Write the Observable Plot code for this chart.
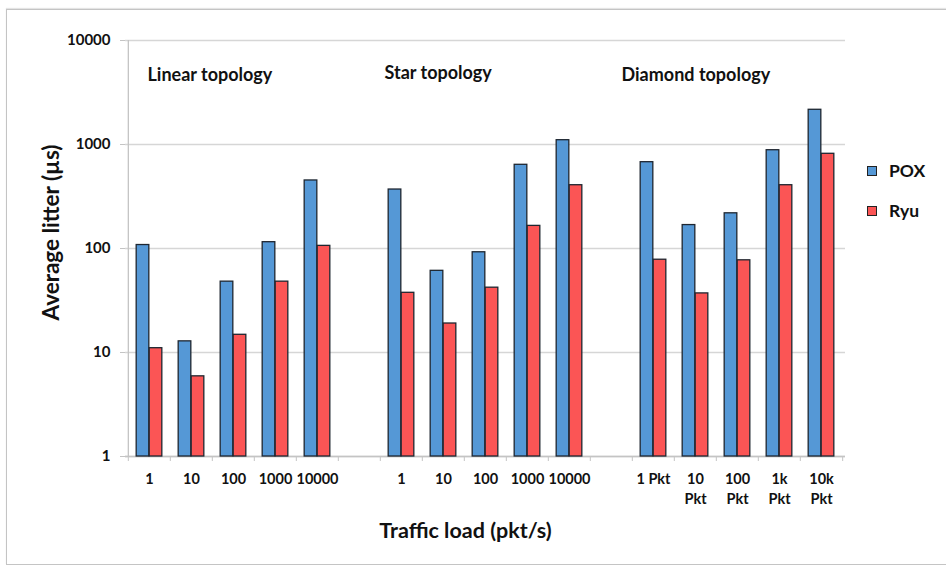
<!DOCTYPE html>
<html>
<head>
<meta charset="utf-8">
<script src="https://cdn.jsdelivr.net/npm/d3@7"></script>
<script src="https://cdn.jsdelivr.net/npm/@observablehq/plot@0.6"></script>
<style>
  html, body { margin: 0; padding: 0; background: #fff; }
  #wrap { position: relative; width: 946px; height: 569px; overflow: hidden; font-family: Lato, "Open Sans", sans-serif; }
  #border { position: absolute; left: 6px; top: 9px; width: 950px; height: 556px; border: 1px solid #c4c4c4; box-sizing: border-box; box-shadow: 0 -1px 1px #e4e4e4; }
  #chart { position: absolute; left: 0; top: 0; }
  .leg { position: absolute; left: 867px; display: flex; align-items: center; font-weight: 700; font-size: 17.5px; color: #111; }
  .sw { width: 8px; height: 8px; border: 1px solid #222; margin-right: 12px; }
</style>
</head>
<body>
<div id="wrap">
  <div id="border"></div>
  <div id="chart"></div>
  <div class="leg" style="top:160px"><span class="sw" style="background:#5598d6"></span>POX</div>
  <div class="leg" style="top:200px"><span class="sw" style="background:#fb5555"></span>Ryu</div>
</div>
<script>
// ---- data ----
const seriesNames = ["POX", "Ryu"];
const loadLabels = ["1", "10", "100", "1000", "10000"];
const diamondLabels = ["1 Pkt", "10\nPkt", "100\nPkt", "1k\nPkt", "10k\nPkt"];
const groupTitles = ["Linear topology", "Star topology", "Diamond topology"];
const poxLinear = [108, 12.8, 48, 115, 451];
const ryuLinear = [11, 5.9, 14.8, 48, 106];
const poxStar = [369, 61, 92, 638, 1100];
const ryuStar = [37.5, 19, 42, 165, 406];
const poxDiamond = [676, 168, 218, 881, 2157];
const ryuDiamond = [78, 37, 77, 406, 814];
const yTicks = [1, 10, 100, 1000, 10000];

// ---- build table ----
const groups = [
  {id: "L", labels: loadLabels, pox: poxLinear, ryu: ryuLinear},
  {id: "S", labels: loadLabels, pox: poxStar, ryu: ryuStar},
  {id: "D", labels: diamondLabels, pox: poxDiamond, ryu: ryuDiamond}
];
const slots = []; // {key, label}
const rows = [];  // {key, series, value}
groups.forEach((g, gi) => {
  g.labels.forEach((lab, i) => {
    const key = g.id + i;
    slots.push({key, label: lab});
    rows.push({key, series: seriesNames[0], value: g.pox[i]});
    rows.push({key, series: seriesNames[1], value: g.ryu[i]});
  });
  if (gi < groups.length - 1) slots.push({key: "gap" + gi, label: ""});
});
const keys = slots.map(d => d.key);

const W = 946, H = 569;
const mL = 125, mR = 101, mT = 40, mB = 113;
const step = (W - mL - mR) / keys.length;
const barW = 13;
const colors = {POX: "#5598d6", Ryu: "#fb5555"};
const font = "Lato, 'Open Sans', sans-serif";
const axisGray = "#c4c4c4";

const bar = (s, left) => Plot.barY(rows.filter(d => d.series === s), {
  x: "key", y1: () => 1, y2: "value",
  fill: colors[s], stroke: "#1e2630", strokeWidth: 1.3,
  insetLeft: left ? step / 2 - barW : step / 2,
  insetRight: left ? step / 2 : step / 2 - barW
});

const plot = Plot.plot({
  width: W, height: H,
  marginLeft: mL, marginRight: mR, marginTop: mT, marginBottom: mB,
  style: {fontFamily: font, color: "#111", background: "transparent"},
  x: {type: "band", domain: keys, padding: 0, axis: null},
  y: {type: "log", domain: [1, 10000], axis: null},
  marks: [
    Plot.ruleY(yTicks, {stroke: "#d6d6d6", strokeWidth: 1.3}),
    Plot.ruleX([0], {x: () => keys[0], dx: -step / 2, y1: () => 1, y2: () => 10000, stroke: axisGray, strokeWidth: 1.3}),
    Plot.ruleY([1], {stroke: axisGray, strokeWidth: 1.3}),
    // y axis ticks + labels
    Plot.axisY({ticks: yTicks, tickSize: 5, tickPadding: 10, tickFormat: d => String(d),
      stroke: axisGray, fill: "#111", fontSize: 15, fontWeight: 700, label: null}),
    // x tick marks between categories
    Plot.axisX({ticks: keys, tickSize: 5, tickFormat: () => "", dx: -step / 2, stroke: axisGray, label: null}),
    Plot.axisX({ticks: [keys[keys.length - 1]], tickSize: 5, tickFormat: () => "", dx: step / 2, stroke: axisGray, label: null}),
    bar("POX", true),
    bar("Ryu", false),
    // x labels
    Plot.text(slots, {x: "key", y: () => 1, text: "label", dy: 13, lineAnchor: "top", lineHeight: 1.4, fontSize: 14.5, fontWeight: 700}),
    // group titles
    Plot.text([groupTitles[0]], {x: () => "L0", frameAnchor: "top", dy: 28, dx: -2, textAnchor: "start", fontSize: 18, fontWeight: 700}),
    Plot.text([groupTitles[1]], {x: () => "S0", frameAnchor: "top", dy: 26, dx: -17, textAnchor: "start", fontSize: 18, fontWeight: 700}),
    Plot.text([groupTitles[2]], {x: () => "D0", frameAnchor: "top", dy: 28, dx: -32, textAnchor: "start", fontSize: 18, fontWeight: 700}),
    // axis titles
    Plot.text(["Average litter (µs)"], {frameAnchor: "left", textAnchor: "middle", rotate: -90, dx: -74, dy: -16, fontSize: 22.5, fontWeight: 700}),
    Plot.text(["Traffic load (pkt/s)"], {frameAnchor: "bottom", dx: -20, dy: 81, fontSize: 21.5, fontWeight: 700})
  ]
});
document.getElementById("chart").appendChild(plot);
</script>
</body>
</html>
